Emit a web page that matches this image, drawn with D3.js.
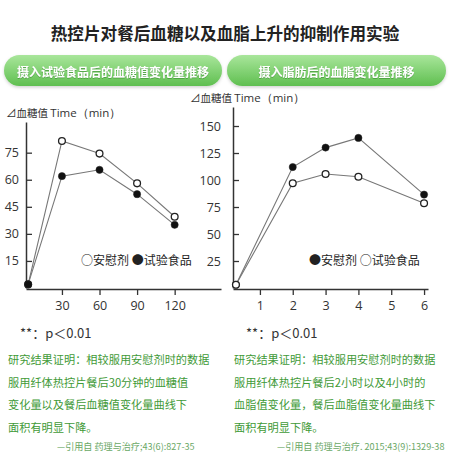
<!DOCTYPE html>
<html><head><meta charset="utf-8">
<script src="https://cdn.jsdelivr.net/npm/d3@7"></script>
<style>body{margin:0;background:#fff}svg{display:block}</style>
</head><body>
<svg id="c" width="452" height="454"></svg>
<script>
const title = "热控片对餐后血糖以及血脂上升的抑制作用实验";
const panelTitles = ["摄入试验食品后的血糖值变化量推移", "摄入脂肪后的血脂变化量推移"];

// Left chart: blood glucose change
const gTimes = [3, 30, 60, 90, 120];
const gPlacebo = [2, 81.5, 74.5, 58, 39.5];
const gTest = [2, 62, 65.5, 52, 35];
const gXTicks = [30, 60, 90, 120];
const gYTicks = [15, 30, 45, 60, 75];

// Right chart: blood lipid change
const lTimes = [0.27, 2, 3, 4, 6];
const lPlacebo = [3, 112, 130, 139, 86.5];
const lTest = [3, 97, 105.5, 103, 78.5];
const lXTicks = [1, 2, 3, 4, 5, 6];
const lYTicks = [25, 50, 75, 100, 125, 150];

const notes = [
  ["研究结果证明：相较服用安慰剂时的数据", "服用纤体热控片餐后30分钟的血糖值", "变化量以及餐后血糖值变化量曲线下", "面积有明显下降。"],
  ["研究结果证明：相较服用安慰剂时的数据", "服用纤体热控片餐后2小时以及4小时的", "血脂值变化量，餐后血脂值变化量曲线下", "面积有明显下降。"]
];
const cites = ["—引用自 药理与治疗;43(6):827-35", "—引用自 药理与治疗. 2015;43(9):1329-38"];

const CJK = "'Noto Sans CJK SC','Noto Sans',sans-serif";
const NUM = "'Open Sans','Noto Sans',sans-serif";
const svg = d3.select("#c");
const defs = svg.append("defs");
const gr = defs.append("linearGradient").attr("id","pill").attr("x1",0).attr("y1",0).attr("x2",0).attr("y2",1);
gr.append("stop").attr("offset","0%").attr("stop-color","#a9e69b");
gr.append("stop").attr("offset","100%").attr("stop-color","#5fbf50");
const sh = defs.append("filter").attr("id","sh").attr("x","-10%").attr("y","-30%").attr("width","120%").attr("height","170%");
sh.append("feDropShadow").attr("dx",0).attr("dy",1.5).attr("stdDeviation",1.5).attr("flood-color","#000").attr("flood-opacity",0.18);
const tsh = defs.append("filter").attr("id","tsh");
tsh.append("feDropShadow").attr("dx",0).attr("dy",0.8).attr("stdDeviation",0.6).attr("flood-color","#2d7a25").attr("flood-opacity",0.6);

svg.append("text").attr("x",225).attr("y",33).attr("text-anchor","middle").attr("dominant-baseline","central")
  .attr("font-family",CJK).attr("font-weight","bold").attr("font-size",16.6).attr("fill","#222").text(title);

const pills = [{x:4,w:218},{x:227,w:219}];
pills.forEach((p,i)=>{
  svg.append("rect").attr("x",p.x).attr("y",55).attr("width",p.w).attr("height",31).attr("rx",15.5)
    .attr("fill","url(#pill)").attr("filter","url(#sh)");
  svg.append("text").attr("x",p.x+p.w/2).attr("y",71).attr("text-anchor","middle").attr("dominant-baseline","central")
    .attr("font-family",CJK).attr("font-weight","bold").attr("font-size",12).attr("fill","#fff")
    .attr("filter","url(#tsh)").text(panelTitles[i]);
});

function chart(cfg){
  const g = svg.append("g");
  const x = d3.scaleLinear().domain(cfg.xDom).range(cfg.xRange);
  const y = d3.scaleLinear().domain(cfg.yDom).range([288, cfg.yTop]);
  const xa = g.append("g").attr("transform",`translate(0,${y(0)+1})`)
    .call(d3.axisBottom(x).tickValues(cfg.xTicks).tickSize(6).tickPadding(4).tickSizeOuter(0).tickFormat(d3.format("d")));
  const ya = g.append("g").attr("transform",`translate(${cfg.xRange[0]},0)`)
    .call(d3.axisRight(y).tickValues(cfg.yTicks).tickSize(6).tickSizeOuter(0).tickFormat(d3.format("d")));
  [xa,ya].forEach(a=>{
    a.select(".domain").attr("stroke","#333").attr("stroke-width",1.5);
    a.selectAll(".tick line").attr("stroke","#333").attr("stroke-width",1.3);
    a.selectAll(".tick text").attr("font-family",NUM).attr("font-size",12.5).attr("fill","#333");
  });
  ya.selectAll(".tick text").attr("text-anchor","end").attr("x",cfg.yLabelX - cfg.xRange[0]);
  xa.selectAll(".tick text").attr("dy","0.9em");
  const t = g.append("text").attr("x",cfg.titleX).attr("y",cfg.yTop-10).attr("dominant-baseline","central")
    .attr("fill","#333");
  t.append("tspan").attr("font-family",CJK).attr("font-size",10.5).text("⊿血糖值 ");
  t.append("tspan").attr("font-family",NUM).attr("font-size",11.5).text("Time（min）");
  const line = d3.line().x((d,i)=>x(cfg.times[i])).y(d=>y(d));
  [cfg.s1, cfg.s2].forEach(s=>{
    g.append("path").attr("d",line(s.vals)).attr("fill","none").attr("stroke","#777").attr("stroke-width",1.1);
  });
  [cfg.s1, cfg.s2].forEach(s=>{
    g.selectAll(null).data(s.vals).join("circle")
      .attr("cx",(d,i)=>x(cfg.times[i])).attr("cy",d=>y(d))
      .attr("r", s.filled?3.6:3.4)
      .attr("fill", s.filled?"#111":"#fff").attr("stroke","#222").attr("stroke-width",s.filled?0.5:1.3);
  });
  g.append("text").attr("x",cfg.legX).attr("y",259).attr("dominant-baseline","central")
    .attr("font-family",CJK).attr("font-size",12).attr("fill","#222").text(cfg.legend);
}

chart({xDom:[1.3,157], xRange:[26,221], yDom:[0,92], yTop:122, xTicks:gXTicks, yTicks:gYTicks, yLabelX:19,
  titleX:6, times:gTimes, s1:{vals:gPlacebo, filled:false}, s2:{vals:gTest, filled:true},
  legX:81, legend:"○安慰剂 ●试验食品"});
chart({xDom:[0.18,6.12], xRange:[233,428], yDom:[0,167.6], yTop:107, xTicks:lXTicks, yTicks:lYTicks, yLabelX:221,
  titleX:190, times:lTimes, s1:{vals:lPlacebo, filled:true}, s2:{vals:lTest, filled:false},
  legX:309, legend:"●安慰剂 ○试验食品"});

const noteX = [[20,8,57],[246,234,277]];
noteX.forEach((nx,i)=>{
  svg.append("text").attr("x",nx[0]).attr("y",332).attr("dominant-baseline","central")
    .attr("font-family",CJK).attr("font-size",13).attr("fill","#333").text("**：p＜0.01");
  notes[i].forEach((ln,j)=>{
    svg.append("text").attr("x",nx[1]).attr("y",359+j*22.5).attr("dominant-baseline","central")
      .attr("font-family",CJK).attr("font-size",11.2).attr("fill","#3f9a37").text(ln);
  });
  svg.append("text").attr("x",nx[2]).attr("y",446).attr("dominant-baseline","central")
    .attr("font-family",CJK).attr("font-size",9.1).attr("fill","#6aa866").text(cites[i]);
});
</script>
</body></html>
